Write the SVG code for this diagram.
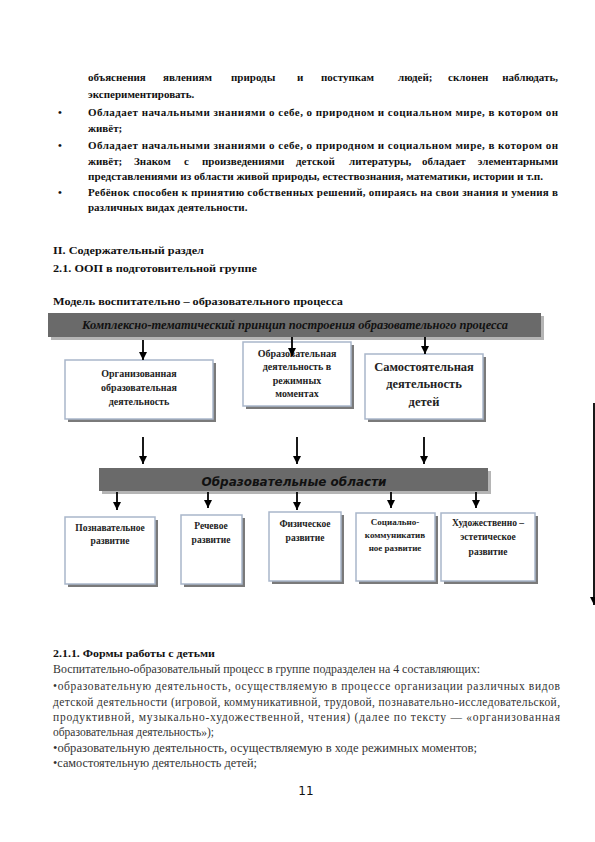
<svg xmlns="http://www.w3.org/2000/svg" width="595" height="842" viewBox="0 0 595 842">
<style>
.b{font-family:"Liberation Serif","Times New Roman",serif;font-weight:bold;font-size:11px;fill:#111}
.r{font-family:"Liberation Serif","Times New Roman",serif;font-size:11.5px;fill:#333}
.bx{font-family:"Liberation Serif","Times New Roman",serif;font-weight:bold;font-size:9.5px;fill:#222;text-anchor:middle}
.box{fill:#fff;stroke:#a9b6ca;stroke-width:1.5}
.sh{fill:#7a7a7a}
.ban{fill:#6a6a6a}
.bsh{fill:#b5b5b5}
.arr{stroke:#000;stroke-width:1.8;fill:none;marker-end:url(#ah)}
</style>
<defs>
<marker id="ah" markerUnits="userSpaceOnUse" markerWidth="8" markerHeight="8" refX="8" refY="4" orient="auto">
<path d="M0,0 L8,4 L0,8 z" fill="#000"/>
</marker>
</defs>
<rect width="595" height="842" fill="#fff"/>

<g id="text-top">
<text class="b" y="81"><tspan x="88">объяснения</tspan><tspan x="163">явлениям</tspan><tspan x="231">природы</tspan><tspan x="297">и</tspan><tspan x="321">поступкам</tspan><tspan x="398">людей;</tspan><tspan x="448">склонен</tspan><tspan x="558" text-anchor="end">наблюдать,</tspan></text>
<text class="b" x="88" y="98">экспериментировать.</text>
<text class="b" x="58" y="116">•</text>
<text class="b" x="88" y="116" textLength="470" lengthAdjust="spacing">Обладает начальными знаниями о себе, о природном и социальном мире, в котором он</text>
<text class="b" x="88" y="132">живёт;</text>
<text class="b" x="58" y="149">•</text>
<text class="b" x="88" y="149" textLength="470" lengthAdjust="spacing">Обладает начальными знаниями о себе, о природном и социальном мире, в котором он</text>
<text class="b" y="165"><tspan x="88">живёт;</tspan><tspan x="134">Знаком</tspan><tspan x="184">с</tspan><tspan x="202">произведениями</tspan><tspan x="296">детской</tspan><tspan x="349">литературы,</tspan><tspan x="422">обладает</tspan><tspan x="558" text-anchor="end">элементарными</tspan></text>
<text class="b" x="88" y="180" textLength="455" lengthAdjust="spacingAndGlyphs">представлениями из области живой природы, естествознания, математики, истории и т.п.</text>
<text class="b" x="58" y="196">•</text>
<text class="b" x="88" y="196" textLength="470" lengthAdjust="spacing">Ребёнок способен к принятию собственных решений, опираясь на свои знания и умения в</text>
<text class="b" x="88" y="211">различных видах деятельности.</text>
<text class="b" x="53" y="254" textLength="151" lengthAdjust="spacingAndGlyphs">II. Содержательный раздел</text>
<text class="b" x="53" y="272" textLength="204" lengthAdjust="spacingAndGlyphs">2.1. ООП в подготовительной  группе</text>
<text class="b" x="53" y="305" textLength="290" lengthAdjust="spacingAndGlyphs">Модель воспитательно – образовательного процесса</text>
</g>

<g id="banner-principle">
<rect class="bsh" x="51" y="316" width="493" height="24"/>
<rect class="ban" x="48" y="313" width="493" height="24"/>
<text x="295" y="329" text-anchor="middle" textLength="426" lengthAdjust="spacingAndGlyphs" style="font-family:'Liberation Serif',serif;font-weight:bold;font-style:italic;font-size:12.5px;fill:#111">Комплексно-тематический принцип построения образовательного процесса</text>
</g>

<g id="box-organized">
<rect class="sh" x="68" y="363" width="148" height="59"/>
<rect class="box" x="65" y="360" width="148" height="59"/>
<text class="bx" x="139" y="377" style="font-size:10px">Организованная</text>
<text class="bx" x="139" y="391" style="font-size:10px">образовательная</text>
<text class="bx" x="139" y="405" style="font-size:10px">деятельность</text>
</g>

<g id="box-regime">
<rect class="sh" x="246" y="345" width="108" height="64"/>
<rect class="box" x="243" y="342" width="108" height="64"/>
<text class="bx" x="297" y="357" style="font-size:10px">Образовательная</text>
<text class="bx" x="297" y="370" style="font-size:10px">деятельность в</text>
<text class="bx" x="297" y="384" style="font-size:10px">режимных</text>
<text class="bx" x="297" y="397" style="font-size:10px">моментах</text>
</g>

<g id="box-independent">
<rect class="sh" x="368" y="357" width="118" height="65"/>
<rect class="box" x="365" y="354" width="118" height="65"/>
<text class="bx" x="424" y="371" style="font-size:12.5px">Самостоятельная</text>
<text class="bx" x="424" y="388" style="font-size:12.5px">деятельность</text>
<text class="bx" x="424" y="406" style="font-size:12.5px">детей</text>
</g>

<g id="banner-areas">
<rect class="bsh" x="102" y="471" width="389" height="23"/>
<rect class="ban" x="99" y="468" width="389" height="23"/>
<text x="294" y="486" text-anchor="middle" textLength="185" lengthAdjust="spacingAndGlyphs" style="font-family:'DejaVu Sans',Verdana,sans-serif;font-weight:bold;font-style:italic;font-size:13px;fill:#111">Образовательные области</text>
</g>

<g id="box-cognitive">
<rect class="sh" x="68" y="520" width="90" height="67"/>
<rect class="box" x="65" y="517" width="90" height="67"/>
<text class="bx" x="110" y="531">Познавательное</text>
<text class="bx" x="110" y="544">развитие</text>
</g>

<g id="box-speech">
<rect class="sh" x="184" y="518" width="61" height="69"/>
<rect class="box" x="181" y="515" width="61" height="69"/>
<text class="bx" x="211" y="529">Речевое</text>
<text class="bx" x="211" y="543">развитие</text>
</g>

<g id="box-physical">
<rect class="sh" x="272" y="515" width="72" height="69"/>
<rect class="box" x="269" y="512" width="72" height="69"/>
<text class="bx" x="305" y="527">Физическое</text>
<text class="bx" x="305" y="541">развитие</text>
</g>

<g id="box-social">
<rect class="sh" x="359" y="516" width="79" height="68"/>
<rect class="box" x="356" y="513" width="79" height="68"/>
<text class="bx" x="395" y="525" style="font-size:9px">Социально-</text>
<text class="bx" x="395" y="538" style="font-size:9px">коммуникатив</text>
<text class="bx" x="395" y="551" style="font-size:9px">ное развитие</text>
</g>

<g id="box-artistic">
<rect class="sh" x="444" y="516" width="94" height="68"/>
<rect class="box" x="441" y="513" width="94" height="68"/>
<text class="bx" x="488" y="526">Художественно –</text>
<text class="bx" x="488" y="540">эстетическое</text>
<text class="bx" x="488" y="555">развитие</text>
</g>

<g id="connectors">
<line class="arr" x1="143" y1="340" x2="143" y2="360"/>
<line class="arr" x1="292" y1="337" x2="292" y2="356"/>
<line class="arr" x1="425" y1="337" x2="425" y2="354"/>
<line class="arr" x1="143" y1="437" x2="143" y2="464"/>
<line class="arr" x1="297" y1="437" x2="297" y2="464"/>
<line class="arr" x1="424" y1="437" x2="424" y2="464"/>
<line class="arr" x1="117" y1="492" x2="117" y2="510"/>
<line class="arr" x1="208" y1="492" x2="208" y2="508"/>
<line class="arr" x1="297" y1="492" x2="297" y2="510"/>
<line class="arr" x1="391" y1="492" x2="391" y2="508"/>
<line class="arr" x1="476" y1="492" x2="476" y2="508"/>
<line class="arr" x1="594" y1="403" x2="594" y2="605"/>
</g>

<g id="text-bottom">
<text class="b" x="53" y="657" textLength="162" lengthAdjust="spacingAndGlyphs">2.1.1. Формы работы с детьми</text>
<text class="r" x="53" y="673" textLength="427" lengthAdjust="spacingAndGlyphs">Воспитательно-образовательный процесс в  группе подразделен на 4 составляющих:</text>
<text class="r" x="53" y="690" textLength="507" lengthAdjust="spacing">•образовательную деятельность, осуществляемую в процессе организации различных видов</text>
<text class="r" x="53" y="706" textLength="507" lengthAdjust="spacing">детской деятельности (игровой, коммуникативной, трудовой, познавательно-исследовательской,</text>
<text class="r" x="53" y="721" textLength="507" lengthAdjust="spacing">продуктивной, музыкально-художественной, чтения) (далее по тексту — «организованная</text>
<text class="r" x="53" y="736">образовательная деятельность»);</text>
<text class="r" x="53" y="752" textLength="424" lengthAdjust="spacingAndGlyphs">•образовательную деятельность, осуществляемую в ходе режимных моментов;</text>
<text class="r" x="53" y="767" textLength="204" lengthAdjust="spacingAndGlyphs">•самостоятельную деятельность детей;</text>
<text x="306" y="795" text-anchor="middle" style="font-family:'DejaVu Sans',sans-serif;font-size:12px;fill:#111">11</text>
</g>
</svg>
